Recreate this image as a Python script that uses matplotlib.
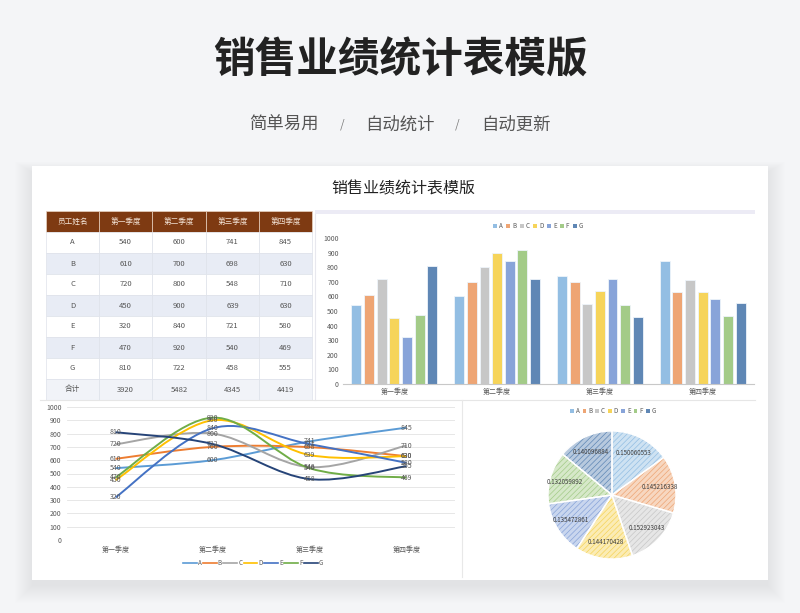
import numpy as np
import matplotlib
matplotlib.use("Agg")
import matplotlib.pyplot as plt
from matplotlib.patches import Rectangle, PathPatch
from matplotlib.path import Path
from matplotlib.lines import Line2D

plt.rcParams['font.family'] = ['Noto Sans CJK SC', 'DejaVu Sans']
plt.rcParams['hatch.linewidth'] = 0.5

# ---------------- data ----------------
people = ['A', 'B', 'C', 'D', 'E', 'F', 'G']
quarters = ['第一季度', '第二季度', '第三季度', '第四季度']
q1 = [540, 610, 720, 450, 320, 470, 810]
q2 = [600, 700, 800, 900, 840, 920, 722]
q3 = [741, 698, 548, 639, 721, 540, 458]
q4 = [845, 630, 710, 630, 580, 469, 555]
header = ['员工姓名'] + quarters
total_label = '合计'

title = '销售业绩统计表模版'
subtitle_parts = ['简单易用', '/', '自动统计', '/', '自动更新']

line_colors = ['#5B9BD5', '#ED7D31', '#A5A5A5', '#FFC000', '#4472C4', '#70AD47', '#264478']
bar_colors = ['#93BEE3', '#EEA574', '#C7C7C7', '#F6D45A', '#88A4D9', '#A3CB88', '#5F87B5']

series = np.array([q1, q2, q3, q4]).T          # one row per person
totals = np.array([q1, q2, q3, q4]).sum(axis=1)
person_totals = series.sum(axis=1)
shares = person_totals / person_totals.sum()

W, H = 800, 613
fig = plt.figure(figsize=(8, 6.13), dpi=100)
fig.patch.set_facecolor('#F4F5F7')

def fx(px):
    return px / W

def fy(py):
    return 1 - py / H

# ---------------- background / card ----------------
bg = fig.add_axes([0, 0, 1, 1])
bg.set_xlim(0, W)
bg.set_ylim(H, 0)
bg.axis('off')

# soft shadow, mostly below the card
for i in range(18):
    bg.add_patch(Rectangle((32 - i, 172 - i * 0.6), 736 + 2 * i, 414 + i * 1.6,
                           facecolor='#000000', edgecolor='none', alpha=0.0035))
bg.add_patch(Rectangle((32, 166), 736, 414, facecolor='white', edgecolor='none'))

bg.text(400, 60, title, ha='center', va='center', fontsize=30,
        fontweight='heavy', color='#222222')
sub_x = [284, 342, 400, 457, 516]
for sx, part in zip(sub_x, subtitle_parts):
    if part == '/':
        bg.text(sx, 125, part, ha='center', va='center', fontsize=10,
                color='#777777', family='DejaVu Sans', fontweight='light')
    else:
        bg.text(sx, 125, part, ha='center', va='center', fontsize=12.5, color='#555555')
bg.text(403, 189, title, ha='center', va='center', fontsize=11.5, color='#222222')

# separators
bg.add_patch(Rectangle((315, 210), 440, 4, facecolor='#ECEBF5', edgecolor='none'))
bg.plot([315, 315], [214, 400], color='#E8E8EE', lw=0.8)
bg.plot([40, 755], [400, 400], color='#E6E6E6', lw=0.8)
bg.plot([462, 462], [400, 577], color='#E8E8E8', lw=0.8)

# ---------------- table ----------------
col_x = [46, 99, 152, 206, 259, 312]
row_top = 211
row_h = 21
header_color = '#7E3A12'

for c in range(5):
    bg.add_patch(Rectangle((col_x[c], row_top), col_x[c + 1] - col_x[c], row_h,
                           facecolor=header_color, edgecolor='#E9D3C2', lw=0.5))
    bg.text((col_x[c] + col_x[c + 1]) / 2, row_top + row_h / 2, header[c],
            ha='center', va='center', fontsize=5.5, color='#F3E3D6')

rows = [[p] + list(series[i]) for i, p in enumerate(people)]
rows.append([total_label] + list(totals))
for r, row in enumerate(rows):
    y0 = row_top + row_h * (r + 1)
    if r == len(rows) - 1:
        fc = '#F1F3F8'
    elif r % 2 == 1:
        fc = '#E8ECF5'
    else:
        fc = 'white'
    for c in range(5):
        bg.add_patch(Rectangle((col_x[c], y0), col_x[c + 1] - col_x[c], row_h,
                               facecolor=fc, edgecolor='#DEE2EA', lw=0.5))
        bg.text((col_x[c] + col_x[c + 1]) / 2, y0 + row_h / 2, str(row[c]),
                ha='center', va='center', fontsize=5.5, color='#555555')

# ---------------- bar chart ----------------
ax_bar = fig.add_axes([fx(343), fy(384), fx(411), 146 / H])
ax_bar.set_facecolor('none')
x = np.arange(len(quarters))
step = 0.123
for i, p in enumerate(people):
    ax_bar.bar(x + (i - 3) * step, series[i], width=0.097, color=bar_colors[i],
               edgecolor='#EEF4FA', lw=0.6, label=p)
ax_bar.set_xlim(-0.5, 3.5)
ax_bar.set_ylim(0, 1000)
ax_bar.set_yticks(range(0, 1001, 100))
ax_bar.set_xticks(x)
ax_bar.set_xticklabels(quarters)
for s in ['top', 'right', 'left']:
    ax_bar.spines[s].set_visible(False)
ax_bar.spines['bottom'].set_color('#C8C8C8')
ax_bar.tick_params(length=0, labelsize=5, colors='#595959', pad=3)

bar_handles = [Rectangle((0, 0), 1, 1, facecolor=c, edgecolor='none') for c in bar_colors]
fig.legend(bar_handles, people, loc='center', bbox_to_anchor=(fx(538), fy(226)),
           ncol=7, fontsize=4.5, frameon=False, handlelength=0.7, handleheight=0.7,
           handletextpad=0.3, columnspacing=0.5, labelcolor='#595959')

# ---------------- line chart ----------------
ax_line = fig.add_axes([fx(67), fy(540), fx(388), 133 / H])
ax_line.set_facecolor('none')


def smooth_path(xs, ys):
    pts = np.column_stack([xs, ys]).astype(float)
    n = len(pts)
    verts = [pts[0]]
    codes = [Path.MOVETO]
    for k in range(n - 1):
        p0 = pts[max(k - 1, 0)]
        p1 = pts[k]
        p2 = pts[k + 1]
        p3 = pts[min(k + 2, n - 1)]
        verts += [p1 + (p2 - p0) / 6, p2 - (p3 - p1) / 6, p2]
        codes += [Path.CURVE4] * 3
    return Path(verts, codes)


for i, p in enumerate(people):
    ax_line.add_patch(PathPatch(smooth_path(x, series[i]), facecolor='none',
                                edgecolor=line_colors[i], lw=1.4, zorder=3))
    for xi, v in zip(x, series[i]):
        ax_line.text(xi, v, str(v), ha='center', va='center', fontsize=5,
                     color='#595959', zorder=4)

ax_line.set_xlim(-0.5, 3.5)
ax_line.set_ylim(0, 1000)
ax_line.set_yticks(range(0, 1001, 100))
ax_line.set_xticks(x)
ax_line.set_xticklabels(quarters)
ax_line.grid(axis='y', color='#E3E3E3', lw=0.6)
ax_line.set_axisbelow(True)
for s in ax_line.spines.values():
    s.set_visible(False)
ax_line.tick_params(length=0, labelsize=5, colors='#595959', pad=4)

line_handles = [Line2D([0], [0], color=c, lw=1.2) for c in line_colors]
fig.legend(line_handles, people, loc='center', bbox_to_anchor=(fx(253), fy(563)),
           ncol=7, fontsize=4.5, frameon=False, handlelength=2.2,
           handletextpad=0.2, columnspacing=0.2, labelcolor='#595959')

# ---------------- pie chart ----------------
half = 72
ax_pie = fig.add_axes([fx(612 - half), fy(495 + half), 2 * half / W, 2 * half / H])
ax_pie.set_facecolor('none')
lim = half / 64
pie_face = []
for c in bar_colors:
    rgb = np.array(matplotlib.colors.to_rgb(c))
    pie_face.append(tuple(rgb * 0.45 + 0.55))

wedges, _ = ax_pie.pie(person_totals, colors=pie_face, startangle=90, counterclock=False)
for wdg, c in zip(wedges, bar_colors):
    wdg.set_edgecolor(c)
    wdg.set_hatch('//////')
    wdg.set_linewidth(0)
ax_pie.pie(person_totals, startangle=90, counterclock=False,
           wedgeprops=dict(fill=False, edgecolor='white', lw=1.0))

# share labels inside each wedge
for wdg, s in zip(wedges, shares):
    mid = np.deg2rad((wdg.theta1 + wdg.theta2) / 2)
    ax_pie.text(0.76 * np.cos(mid), 0.74 * np.sin(mid), f'{s:.9f}',
                ha='center', va='center', fontsize=4.5, color='#404040')

ax_pie.set_xlim(-lim, lim)
ax_pie.set_ylim(-lim, lim)
ax_pie.set_aspect('equal')

pie_handles = [Rectangle((0, 0), 1, 1, facecolor=c, edgecolor='none') for c in bar_colors]
fig.legend(pie_handles, people, loc='center', bbox_to_anchor=(fx(613), fy(411)),
           ncol=7, fontsize=4.5, frameon=False, handlelength=0.6, handleheight=0.6,
           handletextpad=0.3, columnspacing=0.5, labelcolor='#595959')

fig.savefig('out.png', dpi=100, facecolor=fig.get_facecolor())
